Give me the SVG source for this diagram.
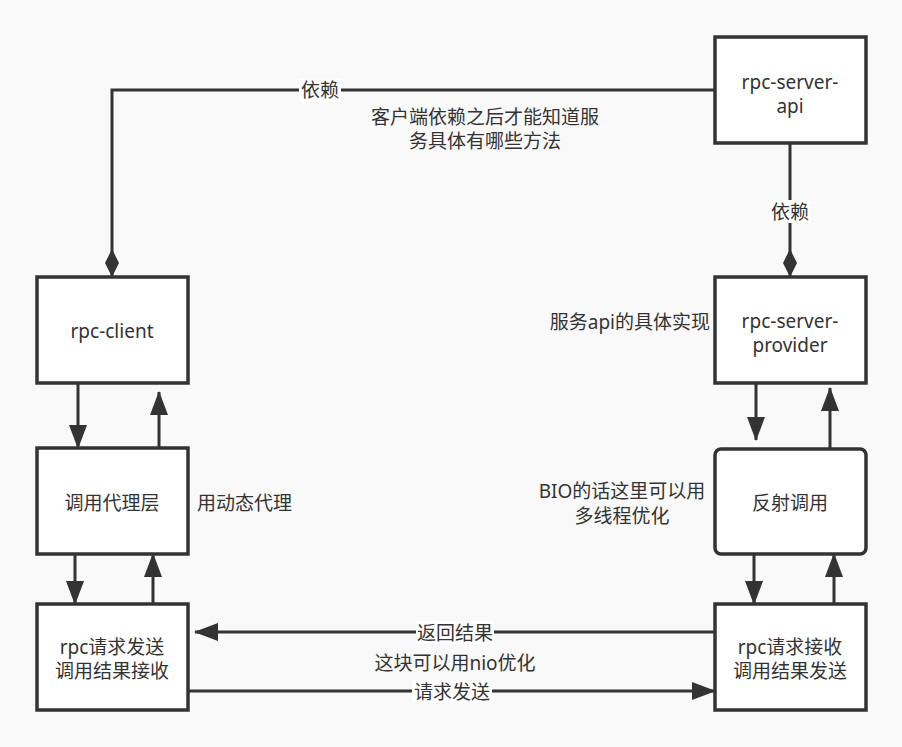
<svg xmlns="http://www.w3.org/2000/svg" width="902" height="747" viewBox="0 0 902 747">
<defs>
<style>
.bg{fill:#f9f9f9}
.box{fill:#ffffff;stroke:#333333;stroke-width:3.5}
.ln{fill:none;stroke:#333333;stroke-width:3}
text{font-family:"Noto Sans","Noto Sans CJK SC",sans-serif;font-size:19px;fill:#333333;dominant-baseline:central}
.c{text-anchor:middle}
.lbg{fill:#ffffff}
</style>
<marker id="arr" viewBox="0 0 24 18" refX="23" refY="9" markerWidth="24" markerHeight="18" markerUnits="userSpaceOnUse" orient="auto">
<path d="M0,0 L24,9 L0,18 Z" fill="#333333"/>
</marker>
<marker id="dia" viewBox="0 0 28 14" refX="28" refY="7" markerWidth="28" markerHeight="14" markerUnits="userSpaceOnUse" orient="auto">
<path d="M0,7 L14,0 L28,7 L14,14 Z" fill="#333333"/>
</marker>
</defs>
<rect class="bg" x="0" y="0" width="902" height="747"/>

<g id="connectors">
<path class="ln" d="M715,90 L112,90 L112,277" marker-end="url(#dia)"/>
<path class="ln" d="M790,143 L790,277" marker-end="url(#dia)"/>
<path class="ln" d="M78,383 L78,448" marker-end="url(#arr)"/>
<path class="ln" d="M159,448 L159,392" marker-end="url(#arr)"/>
<path class="ln" d="M75,554 L75,604" marker-end="url(#arr)"/>
<path class="ln" d="M153,604 L153,554" marker-end="url(#arr)"/>
<path class="ln" d="M756,383 L756,440" marker-end="url(#arr)"/>
<path class="ln" d="M830,449 L830,388" marker-end="url(#arr)"/>
<path class="ln" d="M754,554 L754,604" marker-end="url(#arr)"/>
<path class="ln" d="M834,604 L834,554" marker-end="url(#arr)"/>
<path class="ln" d="M715,632 L195,632" marker-end="url(#arr)"/>
<path class="ln" d="M188,691 L715,691" marker-end="url(#arr)"/>
<rect class="lbg" x="299" y="79" width="42" height="23"/>
<text class="c" x="320" y="90">依赖</text>
<rect class="lbg" x="769" y="200" width="42" height="23"/>
<text class="c" x="790" y="212">依赖</text>
<rect class="lbg" x="416" y="621" width="78" height="23"/>
<text class="c" x="455" y="633">返回结果</text>
<rect class="lbg" x="412" y="680" width="80" height="23"/>
<text class="c" x="452" y="692">请求发送</text>
</g>

<g id="note-dep">
<text class="c" x="485" y="117">客户端依赖之后才能知道服</text>
<text class="c" x="485" y="141">务具体有哪些方法</text>
</g>
<g id="note-proxy"><text x="197" y="503">用动态代理</text></g>
<g id="note-impl"><text x="710" y="322" text-anchor="end">服务api的具体实现</text></g>
<g id="note-bio">
<text class="c" x="622" y="491">BIO的话这里可以用</text>
<text class="c" x="622" y="516">多线程优化</text>
</g>
<g id="note-nio"><text class="c" x="455" y="663">这块可以用nio优化</text></g>

<g id="rpc-server-api">
<rect class="box" x="715" y="37" width="151" height="106"/>
<text class="c" x="790" y="82">rpc-server-</text>
<text class="c" x="790" y="106">api</text>
</g>
<g id="rpc-client">
<rect class="box" x="37" y="277" width="151" height="106"/>
<text class="c" x="112" y="331">rpc-client</text>
</g>
<g id="proxy-layer">
<rect class="box" x="37" y="448" width="151" height="106"/>
<text class="c" x="112" y="503">调用代理层</text>
</g>
<g id="rpc-send">
<rect class="box" x="37" y="604" width="151" height="106"/>
<text class="c" x="112" y="647">rpc请求发送</text>
<text class="c" x="112" y="671">调用结果接收</text>
</g>
<g id="rpc-server-provider">
<rect class="box" x="715" y="277" width="151" height="106"/>
<text class="c" x="790" y="321">rpc-server-</text>
<text class="c" x="790" y="345">provider</text>
</g>
<g id="reflect">
<rect class="box" x="715" y="449" width="151" height="105" rx="6"/>
<text class="c" x="790" y="503">反射调用</text>
</g>
<g id="rpc-recv">
<rect class="box" x="715" y="604" width="151" height="106"/>
<text class="c" x="790" y="647">rpc请求接收</text>
<text class="c" x="790" y="671">调用结果发送</text>
</g>
</svg>
